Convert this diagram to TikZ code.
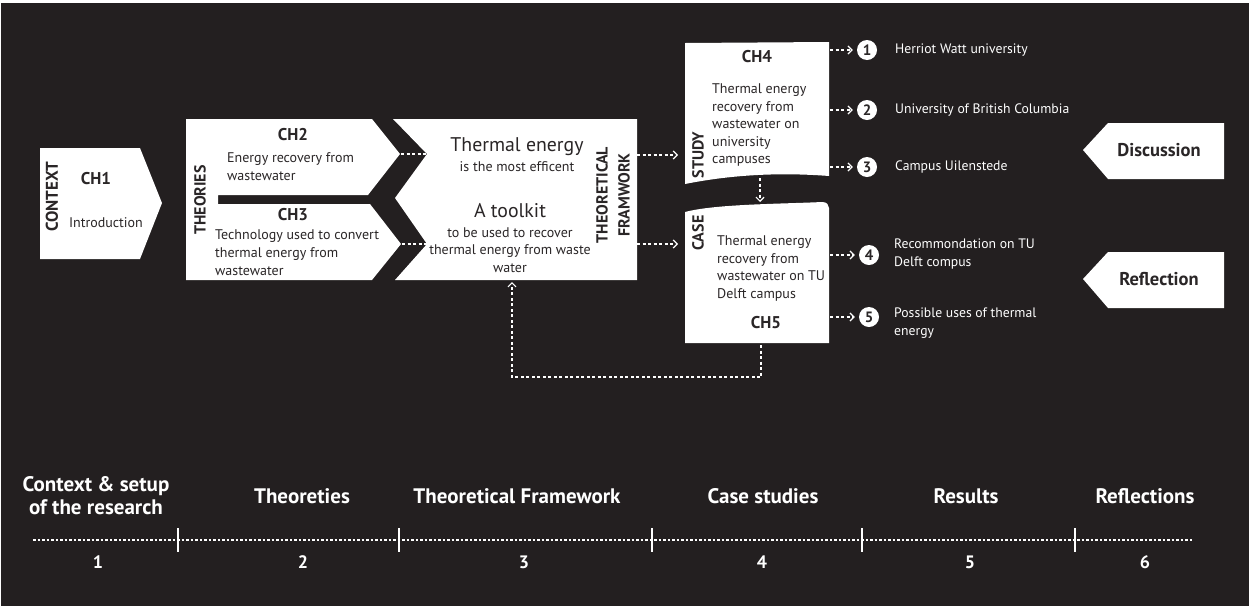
\documentclass[tikz,border=0pt]{standalone}
\usepackage{fontspec}
\setmainfont{PT Sans}
\usepackage{graphicx}
\usetikzlibrary{arrows.meta}
\definecolor{bg}{HTML}{231F20}
\definecolor{ink}{HTML}{2A2627}
\begin{document}
\begin{tikzpicture}[x=1pt,y=-1pt,
  box/.style={fill=white},
  txt/.style={text=ink, font=\fontsize{14}{18}\selectfont, align=left, inner sep=0pt},
  wtxt/.style={text=white, font=\fontsize{13.7}{18}\selectfont, align=left, inner sep=0pt, anchor=west},
  head/.style={text=ink, font=\bfseries\fontsize{17}{20}\selectfont, inner sep=0pt},
  vert/.style={text=ink, rotate=90, font=\bfseries\fontsize{16}{22}\selectfont, inner sep=0pt, align=center},
  big/.style={text=ink, font=\fontsize{19.8}{24}\selectfont, inner sep=0pt},
  flow/.style={white, line width=1.3pt, dash pattern=on 3pt off 2.5pt},
  arr/.style={flow, -{Straight Barb[length=4pt,width=8pt,line width=1.2pt]}},
  circ/.style={circle, fill=white, minimum size=20pt, inner sep=0pt, text=ink, font=\bfseries\fontsize{15}{15}\selectfont},
  tl/.style={text=white, font=\bfseries\fontsize{21}{23}\selectfont, inner sep=0pt, align=center},
  tlnum/.style={text=white, font=\bfseries\fontsize{18}{18}\selectfont, inner sep=0pt},
  tick/.style={white, line width=1.1pt},
  dotline/.style={white, line width=1.2pt, dash pattern=on 2.5pt off 2pt}
]
\useasboundingbox (0,0) rectangle (1249,606);
\fill[white] (0,0) rectangle (1249,606);
\fill[bg] (1,3) rectangle (1249,606);

% ---------- CH1 ----------
\fill[box] (40,148) -- (140,148) -- (162,203) -- (140,259) -- (40,259) -- cycle;
\node[vert, font=\bfseries\fontsize{17}{22}\selectfont] (context) at (52,197) {CONTEXT};
\node[head] (ch1) at (96,179) {CH1};
\node[txt] (intro) at (106,223) {Introduction};

% ---------- Theories ----------
\fill[box] (186,119) -- (372,119) -- (400,154) -- (368,195) -- (218,195) -- (218,204)
  -- (370,204) -- (401,244) -- (372,280) -- (186,280) -- cycle;
\node[vert] (theories) at (200,200) {THEORIES};
\node[head] (ch2) at (293,135) {CH2};
\node[txt, anchor=west] (ch2t) at (227,167) {Energy recovery from\\wastewater};
\node[head] (ch3) at (293,215) {CH3};
\node[txt, anchor=west] (ch3t) at (215,253) {Technology used to convert\\thermal energy from\\wastewater};

% ---------- Theoretical framework ----------
\fill[box] (393,119) -- (637,119) -- (637,280) -- (395,280) -- (427,244) -- (395,198) -- (427,154) -- cycle;
\node[big] (te) at (517,147) {Thermal energy};
\node[txt, font=\fontsize{14}{18}\selectfont] (eff) at (517,167) {is the most efficent};
\node[big] (tk) at (510,211) {A toolkit};
\node[txt, align=center, font=\fontsize{14}{17.5}\selectfont] (tkt) at (510,250) {to be used to recover\\thermal energy from waste\\water};
\node[vert] (tf) at (613,195) {THEORETICAL\\FRAMWORK};

% band dashes
\coordinate (c2p) at (401,154);
\coordinate (tfa) at (427,154);
\coordinate (c3p) at (402,244);
\coordinate (tfb) at (427,244);
\draw[flow] (c2p) -- (tfa);
\draw[flow] (c3p) -- (tfb);

% ---------- Study (CH4) ----------
\fill[box] (685,43) -- (829,42) -- (829,176) .. controls (790,173) and (740,173) .. (685,184) -- cycle;
\node[vert] (study) at (698,155) {STUDY};
\node[head] (ch4) at (757,57) {CH4};
\node[txt, anchor=west, font=\fontsize{14}{17.5}\selectfont] (ch4t) at (712,125) {Thermal energy\\recovery from\\wastewater on\\university\\campuses};

% ---------- Case (CH5) ----------
\fill[box] (685,212) .. controls (715,204) and (780,204) .. (822,202) .. controls (827,202) and (829,205) .. (829,208)
  -- (829,343) -- (685,343) -- cycle;
\node[vert] (case) at (698,233) {CASE};
\node[txt, anchor=west, font=\fontsize{14}{17.5}\selectfont] (ch5t) at (717,268.5) {Thermal energy\\recovery from\\wastewater on TU\\Delft campus};
\node[head] (ch5) at (766,323) {CH5};

% ---------- connectors TF -> study/case ----------
\coordinate (tfr1) at (637,155);
\coordinate (stl) at (685,155);
\coordinate (tfr2) at (637,244);
\coordinate (csl) at (685,244);
\draw[arr, shorten >=7pt] (tfr1) -- (stl);
\draw[arr, shorten >=7pt] (tfr2) -- (csl);

% study -> case
\coordinate (stb) at (760,178);
\coordinate (cst) at (760,204);
\draw[arr, shorten >=2pt] (stb) -- (cst);

% feedback loop
\coordinate (csb) at (761,345);
\coordinate (tfbot) at (512,282);
\draw[arr] (csb) -- ++(0,32) -| (tfbot);

% ---------- results ----------
\node[circ] (n1) at (867,50) {1};
\node[circ] (n2) at (867,110) {2};
\node[circ] (n3) at (867,167) {3};
\node[circ] (n4) at (869,255) {4};
\node[circ] (n5) at (869,317) {5};
\coordinate (s1) at (830,50);
\coordinate (s2) at (830,110);
\coordinate (s3) at (830,167);
\coordinate (s4) at (830,255);
\coordinate (s5) at (830,317);
\draw[arr, shorten >=4pt] (s1) -- (n1);
\draw[arr, shorten >=4pt] (s2) -- (n2);
\draw[arr, shorten >=4pt] (s3) -- (n3);
\draw[arr, shorten >=4pt] (s4) -- (n4);
\draw[arr, shorten >=4pt] (s5) -- (n5);
\node[wtxt] (l1) at (895,50) {Herriot Watt university};
\node[wtxt] (l2) at (895,110) {University of British Columbia};
\node[wtxt] (l3) at (895,167) {Campus Uilenstede};
\node[wtxt] (l4) at (894,254) {Recommondation on TU\\Delft compus};
\node[wtxt] (l5) at (894,323) {Possible uses of thermal\\energy};

% ---------- Discussion / Reflection ----------
\fill[box] (1083,150) -- (1108,123) -- (1224,123) -- (1224,179) -- (1108,179) -- cycle;
\node[head, font=\bfseries\fontsize{18.5}{20}\selectfont] (disc) at (1159,150) {Discussion};
\fill[box] (1083,279) -- (1108,252) -- (1224,252) -- (1224,308) -- (1108,308) -- cycle;
\node[head, font=\bfseries\fontsize{18.5}{20}\selectfont] (refl) at (1159,279) {Reflection};

% ---------- timeline ----------
\coordinate (t0) at (33,540);
\coordinate (t6) at (1192,540);
\draw[dotline] (t0) -- (t6);
\foreach \x [count=\i] in {178,399,652,862,1075} {
  \coordinate (k\i a) at (\x,528);
  \coordinate (k\i b) at (\x,552);
  \draw[tick] (k\i a) -- (k\i b);
}
\node[tl] (p1) at (96,496) {Context \& setup\\of the research};
\node[tl] (p2) at (302,496) {Theoreties};
\node[tl] (p3) at (517,496) {Theoretical Framework};
\node[tl] (p4) at (763,496) {Case studies};
\node[tl] (p5) at (966,496) {Results};
\node[tl] (p6) at (1145,496) {Reflections};
\node[tlnum] (m1) at (98,562) {1};
\node[tlnum] (m2) at (303,562) {2};
\node[tlnum] (m3) at (524,562) {3};
\node[tlnum] (m4) at (762,562) {4};
\node[tlnum] (m5) at (970,562) {5};
\node[tlnum] (m6) at (1145,562) {6};
\end{tikzpicture}
\end{document}
